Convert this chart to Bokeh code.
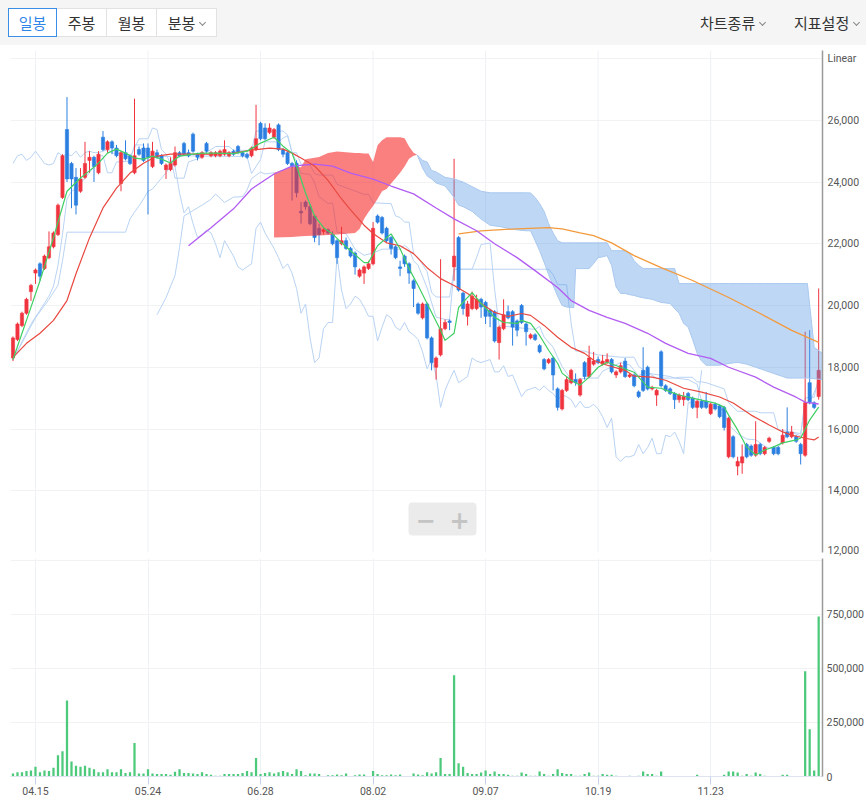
from bokeh.plotting import figure
from bokeh.models import (Range1d, FixedTicker, NumeralTickFormatter, BoxAnnotation,
                          Label, Div, Span, ColumnDataSource)
from bokeh.layouts import column
from bokeh.embed import file_html
from bokeh.resources import INLINE

# ---------------------------------------------------------------- data
tick_bars = [5, 30, 55, 80, 105, 130, 155]
tick_labels = ["04.15", "05.24", "06.28", "08.02", "09.07", "10.19", "11.23"]

opens = [
    18300, 18900, 19350, 19750, 20450, 21050, 21350, 21200, 21550, 21900,
    22300, 23500, 25700, 24600, 24150, 23700, 24150, 24700, 24800, 24300,
    25450, 25050, 25300, 25100, 23950, 24950, 24850, 24300, 25050, 25100,
    25100, 24500, 24950, 24850, 24400, 24400, 24550, 24950, 25250, 24950,
    25550, 24900, 24800, 25250, 24850, 24850, 24850, 24900, 24850, 25000,
    25150, 24950, 24900, 24850, 25050, 25900, 25750, 25600, 25450, 25850,
    25050, 24950, 24600, 24600, 23050, 23350, 23200, 22900, 22500, 22400,
    22450, 22300, 22100, 22000, 22100, 21850, 21700, 20950, 21050, 21200,
    21350, 22900, 22850, 22500, 22200, 21900, 21250, 21600, 21350, 20800,
    20050, 19600, 20050, 18950, 18000, 18400, 19250, 19500, 21250, 22200,
    20400, 19650, 19900, 19900, 20200, 20100, 19850, 19800, 18800, 19250,
    19800, 19800, 19500, 20000, 19400, 18950, 19050, 18700, 18250, 18150,
    18300, 17300, 16650, 17250, 17500, 17600, 17100, 18150, 17700, 18100,
    18250, 18100, 18150, 18250, 17750, 17850, 18200, 17700, 17750, 17200,
    17900, 18000, 17300, 17100, 18500, 17400, 17300, 17150, 16950, 16950,
    17150, 17000, 16700, 16900, 16900, 16500, 16800, 16750, 16700, 15100,
    15750, 14800, 14900, 15500, 15450, 15150, 15500, 15200, 15600, 15400,
    15400, 15550, 15900, 15750, 15750, 15500, 15150, 17500, 16850, 17050,
]
highs = [
    19000, 19450, 19800, 20250, 20700, 21200, 21400, 21650, 22400, 22400,
    23300, 24900, 26750, 24650, 24450, 24450, 25300, 25000, 24850, 25000,
    25650, 25350, 25350, 25200, 25000, 25350, 24900, 26700, 25150, 25250,
    25250, 25300, 25050, 24900, 24600, 24800, 25150, 25000, 25300, 25050,
    25600, 24950, 25000, 25300, 25000, 25000, 25050, 25350, 25000, 25050,
    25200, 25000, 24950, 25150, 26500, 25950, 25900, 25900, 25750, 25900,
    25100, 25000, 24650, 24700, 23350, 23400, 23300, 22950, 22650, 22550,
    22500, 22400, 22150, 22550, 22200, 21900, 21750, 21200, 21300, 21450,
    22700, 22950, 22900, 22550, 22250, 21950, 21450, 21650, 21400, 20850,
    20100, 20100, 20100, 19000, 18350, 21500, 19550, 19550, 24750, 22250,
    20450, 20150, 20450, 20350, 20250, 20150, 19900, 19850, 19350, 20200,
    20000, 19850, 19550, 20050, 19450, 19100, 19100, 18750, 18300, 18300,
    18350, 17350, 17300, 17700, 17950, 17800, 17650, 18200, 18700, 18500,
    18350, 18400, 18450, 18300, 17900, 18150, 18300, 17800, 17800, 17250,
    18650, 18050, 17400, 17300, 18550, 17450, 17350, 17200, 17150, 17200,
    17200, 17050, 16950, 16950, 17200, 16850, 16850, 16800, 16750, 16400,
    15800, 15100, 15500, 15550, 15500, 16250, 15550, 15450, 15750, 15450,
    15450, 16000, 16700, 16100, 15800, 15550, 19150, 19200, 16900, 20550,
]
lows = [
    18200, 18850, 19300, 19700, 20150, 20700, 20800, 21150, 21500, 21850,
    22250, 23450, 24000, 23150, 22950, 23650, 24100, 24300, 24000, 24250,
    25000, 24950, 24900, 24800, 23700, 24700, 24550, 24250, 24850, 24650,
    22950, 24450, 24750, 24550, 24100, 24350, 24500, 24800, 24850, 24800,
    24950, 24700, 24750, 24950, 24800, 24800, 24800, 24850, 24800, 24850,
    24900, 24800, 24750, 24800, 25000, 25350, 25350, 25550, 25400, 25000,
    24800, 24550, 23400, 23500, 22650, 23100, 22600, 22050, 21950, 22300,
    22300, 21950, 21350, 21950, 21800, 21550, 21000, 20900, 20700, 21150,
    21300, 22650, 22300, 22050, 21650, 21500, 20950, 21250, 20700, 19950,
    19700, 19550, 18900, 17900, 17600, 18350, 19200, 19200, 20800, 20450,
    19700, 19350, 19850, 19850, 19600, 19400, 19300, 18800, 18250, 19200,
    19550, 18700, 19000, 19400, 18700, 18900, 18850, 18450, 17900, 18100,
    17250, 16600, 16600, 17200, 17450, 17400, 17050, 17600, 17650, 18050,
    18100, 18050, 18100, 17800, 17650, 17800, 17650, 17650, 17350, 17000,
    17200, 17250, 17250, 16750, 17350, 17200, 17100, 16650, 16850, 16750,
    16900, 16650, 16350, 16650, 16650, 16450, 16600, 16350, 15950, 15050,
    15050, 14500, 14550, 15050, 15100, 15100, 15150, 15150, 15550, 15150,
    15150, 15500, 15700, 15700, 15550, 14850, 15100, 16800, 16650, 16950,
]
closes = [
    18950, 19400, 19750, 20200, 20650, 21150, 20950, 21600, 21900, 22350,
    23250, 24850, 24100, 24100, 23250, 24100, 24600, 24800, 24500, 24900,
    25050, 25300, 25100, 24850, 24950, 24750, 24600, 24850, 24900, 24700,
    24800, 25000, 24800, 24600, 24550, 24600, 24950, 24850, 24900, 24850,
    25000, 24800, 24950, 25000, 24950, 24950, 25000, 25050, 24950, 24900,
    24950, 24850, 24800, 25100, 25400, 25400, 25400, 25750, 25700, 25050,
    24900, 24600, 24500, 23650, 23000, 23200, 22650, 22200, 22300, 22450,
    22350, 22000, 21550, 22100, 21850, 21600, 21250, 21150, 21250, 21350,
    22500, 22700, 22350, 22100, 21850, 21550, 21200, 21350, 21050, 20550,
    19750, 20050, 18950, 18150, 18300, 19250, 19450, 19450, 21600, 20500,
    19900, 20050, 20300, 20200, 19950, 19650, 19650, 18850, 19300, 19700,
    19600, 19300, 19200, 19450, 19150, 19050, 18900, 18500, 17950, 18250,
    17750, 16700, 17250, 17600, 17900, 17500, 17600, 17700, 18300, 18200,
    18150, 18200, 18250, 17850, 17850, 18050, 17700, 17750, 17400, 17050,
    17250, 17300, 17350, 17250, 17400, 17250, 17150, 16950, 17100, 17050,
    16950, 16700, 16900, 16700, 16700, 16800, 16650, 16400, 16050, 16350,
    15100, 14950, 15100, 15100, 15150, 15500, 15200, 15400, 15700, 15200,
    15200, 15800, 15750, 15900, 15600, 15200, 16850, 16850, 16700, 17900,
]
volumes = [
    14000, 20000, 20000, 25000, 28000, 45000, 20000, 28000, 25000, 40000,
    98000, 117000, 352000, 70000, 50000, 45000, 50000, 40000, 34000, 20000,
    20000, 34000, 20000, 20000, 34000, 16000, 20000, 155000, 14000, 14000,
    34000, 14000, 11000, 11000, 12000, 8000, 22000, 34000, 16000, 16000,
    14000, 12000, 20000, 11000, 8000, 3000, 3000, 12000, 11000, 11000,
    12000, 16000, 25000, 20000, 86000, 11000, 16000, 20000, 14000, 20000,
    25000, 20000, 11000, 33000, 26000, 6000, 14000, 14000, 11000, 1500,
    6000, 6000, 9000, 6000, 14000, 1500, 6000, 9000, 9000, 1500,
    25000, 11000, 6000, 6000, 9000, 6000, 9000, 1500, 1500, 14000,
    9000, 6000, 20000, 14000, 20000, 86000, 11000, 11000, 469000, 61000,
    45000, 16000, 12000, 12000, 19000, 28000, 12000, 23000, 12000, 12000,
    8000, 3000, 3000, 19000, 11000, 3000, 3000, 23000, 12000, 3000,
    11000, 33000, 16000, 11000, 11000, 3000, 3000, 11000, 19000, 3000,
    3000, 11000, 8000, 8000, 3000, 2000, 2000, 3000, 2000, 3000,
    23000, 11000, 11000, 3000, 23000, 2000, 2000, 2000, 2000, 2000,
    2000, 2000, 8000, 2000, 2000, 2000, 2000, 2000, 8000, 23000,
    23000, 19000, 3000, 11000, 3000, 19000, 11000, 3000, 2000, 2000,
    2000, 8000, 8000, 2000, 2000, 2000, 487000, 219000, 28000, 740000,
]

# moving averages (5 / 20 / 60 / 120)
ma5_x = [0, 3, 6, 9, 12, 15, 17, 19, 21, 23, 25, 27, 29, 31, 33, 35, 37, 40, 42, 45,
         49, 52, 55, 58, 60, 62, 63, 65, 67, 69, 71, 73, 75, 78, 79, 81, 84, 86, 88, 90,
         92, 95, 96, 98, 99, 101, 102, 104, 107, 109, 112, 113, 115, 117, 119, 121, 122, 124, 126, 128,
         130, 132, 135, 138, 141, 144, 145, 148, 151, 153, 156, 158, 159, 161, 163, 165, 167, 169, 171, 174,
         175, 177, 179]
ma5_y = [18250, 19520, 20800, 22200, 23700, 24130, 24360, 24610, 24935, 25065, 24935, 24775, 24740, 24840, 24740, 24615, 24840, 24900, 24935, 24935,
         24920, 25000, 25260, 25450, 25160, 24935, 24520, 23645, 22900, 22520, 22320, 22030, 21775, 21390, 21390, 21935, 22320, 21840, 21195, 20645,
         20065, 19195, 18870, 19100, 19935, 20260, 20420, 20065, 19615, 19450, 19420, 19520, 19420, 19030, 18550, 18130, 17810, 17580, 17420, 17680,
         18000, 18160, 18000, 17840, 17355, 17320, 17260, 17100, 17000, 16935, 16840, 16710, 16450, 15970, 15420, 15160, 15320, 15420, 15550, 15645,
         15710, 16290, 16710]
ma20_x = [0, 3, 6, 9, 12, 14, 17, 20, 23, 26, 29, 32, 35, 40, 44, 49, 53, 57, 60, 62,
          64, 67, 70, 73, 75, 78, 80, 83, 86, 89, 92, 95, 98, 101, 104, 107, 110, 113, 115, 118,
          121, 124, 127, 129, 132, 136, 138, 142, 145, 149, 153, 157, 160, 164, 168, 171, 173, 176, 178, 179]
ma20_y = [18320, 18775, 19100, 19520, 20160, 21030, 22190, 23160, 23800, 24290, 24610, 24840, 24900, 24900, 24900, 24935, 25030, 25100, 25065, 24935,
          24775, 24520, 24050, 23450, 23100, 22600, 22330, 22030, 21935, 21680, 21225, 20870, 20645, 20390, 20065, 19775, 19645, 19740, 19680, 19355,
          18970, 18645, 18450, 18225, 18065, 17900, 17710, 17680, 17580, 17320, 17195, 17035, 16840, 16450, 16130, 15905, 15800, 15700, 15645, 15740]
ma60_x = [39, 44, 49, 53, 58, 62, 67, 71, 75, 80, 84, 89, 94, 98, 103, 107, 112, 116, 121, 124,
          128, 132, 136, 141, 145, 150, 155, 159, 165, 169, 174, 176, 179]
ma60_y = [21935, 22520, 23130, 23775, 24260, 24515, 24580, 24515, 24290, 24095, 23870, 23615, 23160, 22805, 22420, 22000, 21550, 21130, 20580, 20160,
          19840, 19615, 19420, 19100, 18775, 18450, 18290, 18000, 17680, 17355, 17030, 16870, 16810]
ma120_x = [99, 104, 112, 119, 122, 126, 129, 133, 138, 144, 151, 159, 166, 173, 179]
ma120_y = [22320, 22420, 22485, 22520, 22485, 22355, 22260, 22030, 21615, 21225, 20810, 20260, 19740, 19195, 18805]

# ichimoku: conversion line, base line, leading span A before the cloud
tenkan_x = [0, 4, 8, 9, 10, 11, 12, 13, 14, 15, 16, 17, 18, 19, 20, 21, 22, 23, 26, 27,
            29, 30, 35, 36, 38, 39, 42, 43, 44, 45, 48, 49, 53, 54, 60, 61, 62, 63, 64, 66,
            67, 68, 70, 71, 72, 74, 76, 78, 80, 82, 86, 87, 88, 89, 90, 92, 94, 96, 97, 98,
            102, 103, 104, 106, 107, 108, 111, 116, 117, 118, 120, 121, 122, 124, 128, 130, 131, 135, 137, 138,
            139, 140, 146, 147, 150, 152, 153, 156, 158, 159, 161, 163, 165, 167, 168, 170, 171, 173, 175, 176,
            177, 178, 179]
tenkan_y = [18250, 19400, 20300, 20625, 21300, 22300, 23450, 23700, 23775, 23950, 24125, 24300, 24500, 24850, 24850, 24300, 24300, 24650, 24675, 25200,
            25200, 24825, 24825, 24125, 24125, 24650, 24800, 24975, 25050, 25150, 25150, 25025, 25025, 25650, 25650, 25525, 24950, 24675, 24275, 24250,
            23975, 23525, 23300, 23325, 22375, 22325, 21825, 21625, 21700, 21825, 21825, 21950, 21825, 21450, 21300, 20575, 19625, 19550, 19550, 21175,
            21175, 21550, 21975, 22025, 20525, 19350, 19300, 19225, 19325, 18975, 18650, 18325, 18025, 17600, 17650, 17650, 17875, 18150, 18075, 17900,
            17725, 17825, 17700, 17650, 17600, 17450, 16900, 16775, 16575, 16125, 15850, 15675, 15650, 15450, 15375, 15400, 15650, 15900, 15775, 17000,
            17025, 17025, 17700]
kijun_x = [0, 5, 8, 10, 11, 12, 25, 26, 27, 28, 29, 30, 31, 32, 33, 34, 35, 36, 52, 53,
           55, 56, 59, 60, 61, 62, 63, 64, 66, 67, 68, 71, 72, 78, 79, 80, 84, 85, 86, 87,
           88, 89, 90, 92, 93, 94, 97, 98, 119, 120, 121, 123, 124, 125, 127, 128, 130, 135, 138, 139,
           141, 143, 147, 148, 151, 152, 153, 154, 158, 159, 161, 165, 166, 169, 170, 175, 176, 177, 179]
kijun_y = [18250, 19600, 20200, 20650, 21450, 22375, 22375, 22800, 23025, 23225, 23450, 23700, 23775, 23950, 24125, 24300, 24500, 24850, 24825, 24275,
           24725, 25300, 25300, 25425, 25500, 24950, 24950, 24575, 24550, 24275, 24225, 24225, 23925, 23600, 23600, 23325, 23300, 22900, 22850, 22700,
           22700, 21675, 21550, 21100, 20425, 20275, 20275, 21175, 21175, 21000, 20675, 20675, 19425, 18525, 18525, 18475, 18400, 18325, 18325, 18025,
           17825, 17650, 17650, 17675, 17675, 17525, 17525, 17500, 17300, 16850, 16575, 16575, 16525, 16525, 15975, 15850, 16825, 16850, 17525]
span_a_x = [32, 34, 36, 37, 38, 40, 42, 44, 45, 47, 49, 51, 52, 53, 55, 56, 58]
span_a_y = [19700, 20250, 20975, 21875, 22900, 23075, 23250, 23440, 23610, 23340, 23510, 23525, 23740, 24110, 24325, 24260, 24300]

# cloud while span A is above span B
red_cloud_x = [58, 62, 64, 65, 68, 70, 72, 76, 77, 78, 79, 80, 81, 82, 83, 84, 85, 86, 87, 88,
               89, 89.8]
red_cloud_a = [24300, 24490, 24475, 24740, 24810, 24940, 24990, 24940, 24940, 24925, 24925, 24650, 25190, 25350, 25450, 25450, 25450, 25450, 25420, 25150,
               24950, 24880]
red_cloud_b = [22200, 22220, 22240, 22250, 22270, 22280, 22300, 22350, 22475, 22800, 23025, 23225, 23450, 23700, 23775, 23950, 24125, 24300, 24500, 24750,
               24850, 24880]

# cloud while span B is above span A
blue_cloud_x = [89.8, 91, 92, 93, 94, 96, 98, 99, 100, 102,
                104, 106, 108, 110, 112, 114, 115, 116, 117, 118,
                119, 120, 121, 122, 123, 124, 124.6, 125, 126, 128,
                129, 130, 131, 132, 133, 134, 135, 136, 137, 138,
                139, 140, 142, 144, 146, 147, 148, 149, 150, 151,
                152, 153, 154, 155, 157, 159, 161, 163, 165, 167,
                169, 171, 172, 176.5, 178, 179.85]
blue_cloud_b = [24880, 24700, 24650, 24375, 24325, 24150, 24100, 24050, 24000, 23850,
                23700, 23650, 23650, 23650, 23650, 23650, 23645, 23500, 23300, 23050,
                22650, 22350, 22100, 22030, 22030, 22030, 22030, 22030, 22030, 22030,
                22030, 22030, 22030, 22030, 21775, 21775, 21775, 21775, 21700, 21450,
                21300, 21195, 21195, 21195, 21195, 21195, 20710, 20710, 20710, 20710,
                20710, 20710, 20710, 20710, 20710, 20710, 20710, 20710, 20710, 20710,
                20710, 20710, 20710, 20710, 18645, 18450]
blue_cloud_a = [24880, 24450, 24200, 24100, 23970, 23870, 23500, 23250, 23200, 23050,
                22800, 22600, 22560, 22500, 22450, 22420, 22420, 22100, 21775, 21400,
                21000, 20650, 20300, 20000, 19950, 19935, 19935, 21195, 21195, 21195,
                21360, 21550, 21575, 21615, 21300, 20600, 20390, 20390, 20350, 20325,
                20280, 20250, 20200, 20100, 20065, 19900, 19750, 19420, 19300, 18900,
                18450, 18200, 18065, 18065, 18065, 18120, 18160, 18100, 18000, 17900,
                17800, 17700, 17650, 17650, 17630, 17600]

# ---------------------------------------------------------------- styling
UP = "#f0343f"
DOWN = "#2b7fe0"
ICHI = "#b9d3f3"
GRID_V = "#eef1f5"
GRID_H = "#f1f2f4"
AXIS_FONT = "Roboto"
AXIS_FONT_SIZE = "10.5px"
FRAME_LEFT, FRAME_W = 10, 812
PRICE_TOP = 5                  # price frame starts at page y = 45 + 5
PX_PER_UNIT = 494 / 16000      # 2,000 won steps are 61.75 px apart
Y_LO = 12000
PRICE_H = 502
Y_HI = Y_LO + PRICE_H / PX_PER_UNIT
X_LO, X_HI = -0.55, 179.85

bars = list(range(len(closes)))
colors = [UP if c >= o else DOWN for o, c in zip(opens, closes)]
candles = ColumnDataSource(dict(
    x=bars, high=highs, low=lows,
    top=[max(o, c) for o, c in zip(opens, closes)],
    bottom=[min(o, c) for o, c in zip(opens, closes)],
    color=colors,
))


def style_value_axis(fig, standoff):
    for ax in fig.yaxis:
        ax.axis_line_color = "#9a9a9a"
        ax.axis_line_width = 1.5
        ax.major_tick_line_color = None
        ax.major_tick_out = 0
        ax.major_tick_in = 0
        ax.minor_tick_line_color = None
        ax.minor_tick_out = 0
        ax.major_label_text_font = AXIS_FONT
        ax.major_label_text_font_size = AXIS_FONT_SIZE
        ax.major_label_text_color = "#555555"
        ax.major_label_standoff = standoff


# ---------------------------------------------------------------- price panel
price = figure(frame_width=FRAME_W, frame_height=PRICE_H,
               x_range=Range1d(X_LO, X_HI), y_range=Range1d(Y_LO, Y_HI),
               x_axis_location=None, y_axis_location="right",
               output_backend="svg", toolbar_location=None,
               min_border_left=FRAME_LEFT, min_border_right=44,
               min_border_top=PRICE_TOP, min_border_bottom=4,
               background_fill_color="white", border_fill_color="white",
               outline_line_color=None)
price.xgrid.visible = False
for b in tick_bars:
    price.add_layout(Span(location=b, dimension="height", line_color=GRID_V,
                          line_width=1, level="underlay"))
price.yaxis.ticker = FixedTicker(ticks=list(range(12000, 28001, 2000)))
price.yaxis.formatter = NumeralTickFormatter(format="0,0")
price.yaxis.major_label_overrides = {28000: "Linear"}
price.ygrid.grid_line_color = GRID_H
style_value_axis(price, 5)

# ichimoku lines (under candles and cloud)
price.line(tenkan_x, tenkan_y, line_color=ICHI, line_width=1)
price.line(kijun_x, kijun_y, line_color=ICHI, line_width=1)
price.line(bars[:len(closes) - 26], closes[26:], line_color=ICHI, line_width=1)
price.line(span_a_x, span_a_y, line_color=ICHI, line_width=1)

# candles
price.segment(x0="x", y0="low", x1="x", y1="high", line_color="color", line_width=1, source=candles)
price.vbar(x="x", top="top", bottom="bottom", width=0.72, fill_color="color",
           line_color="color", line_width=0.6, source=candles)

# cloud
price.varea(x=red_cloud_x, y1=red_cloud_b, y2=red_cloud_a, fill_color="#f72b2b", fill_alpha=0.6)
price.varea(x=blue_cloud_x, y1=blue_cloud_a, y2=blue_cloud_b, fill_color="#5c9be6", fill_alpha=0.4)
price.line(blue_cloud_x, blue_cloud_a, line_color="#a9c8ef", line_width=1)
price.line(blue_cloud_x, blue_cloud_b, line_color="#a9c8ef", line_width=1)

# moving averages on top
price.line(ma120_x, ma120_y, line_color="#f39a3c", line_width=1.3)
price.line(ma60_x, ma60_y, line_color="#b25cf2", line_width=1.3)
price.line(ma20_x, ma20_y, line_color="#e8483f", line_width=1.2)
price.line(ma5_x, ma5_y, line_color="#3fcf62", line_width=1.2)


# zoom buttons placed in page pixels, converted to data units
def px_x(px):
    return X_LO + (px - FRAME_LEFT) * (X_HI - X_LO) / FRAME_W


def px_y(py):
    return Y_HI - (py - (45 + PRICE_TOP)) / PX_PER_UNIT


price.add_layout(BoxAnnotation(left=px_x(408), right=px_x(476), top=px_y(502), bottom=px_y(535),
                               fill_color="#ebebeb", fill_alpha=1.0, line_color=None,
                               border_radius=4, level="overlay"))
price.segment(x0=[px_x(442)], y0=[px_y(508)], x1=[px_x(442)], y1=[px_y(529)],
              line_color="#f7f7f7", line_width=1.5, level="overlay")
for sym, cx in (("\u2212", 425), ("+", 459)):
    price.add_layout(Label(x=px_x(cx), y=px_y(519), text=sym, text_align="center",
                           text_baseline="middle", text_font="DejaVu Sans",
                           text_font_style="bold", text_font_size="24px",
                           text_color="#c4c4c4", level="overlay"))

# ---------------------------------------------------------------- volume panel
vol = figure(frame_width=FRAME_W, frame_height=218,
             x_range=price.x_range, y_range=Range1d(0, 1_009_000),
             y_axis_location="right", output_backend="svg", toolbar_location=None,
             min_border_left=FRAME_LEFT, min_border_right=44,
             min_border_top=2, min_border_bottom=28,
             background_fill_color="white", border_fill_color="white",
             outline_line_color=None)
vol.vbar(x=bars, top=volumes, width=0.5, fill_color="#4cc97a", line_color=None)
vol.xaxis.ticker = FixedTicker(ticks=tick_bars)
vol.xaxis.major_label_overrides = dict(zip(tick_bars, tick_labels))
vol.xaxis.axis_line_color = "#dfe5ef"
vol.xaxis.major_tick_line_color = "#c6d3e8"
vol.xaxis.major_tick_out = 8
vol.xaxis.major_tick_in = 0
vol.xaxis.minor_tick_line_color = None
vol.xaxis.major_label_standoff = 2
vol.xaxis.major_label_text_font = AXIS_FONT
vol.xaxis.major_label_text_font_size = AXIS_FONT_SIZE
vol.xaxis.major_label_text_color = "#555555"
vol.xgrid.grid_line_color = GRID_V
vol.yaxis.ticker = FixedTicker(ticks=[0, 250000, 500000, 750000, 1000000])
vol.yaxis.formatter = NumeralTickFormatter(format="0,0")
vol.yaxis.major_label_overrides = {1000000: ""}
vol.ygrid.grid_line_color = GRID_H
style_value_axis(vol, 4)

# ---------------------------------------------------------------- top bar
chev = ('<span style="display:inline-block;width:5px;height:5px;border-right:1px solid #888;'
        'border-bottom:1px solid #888;transform:rotate(45deg);margin-left:5px;'
        'position:relative;top:-4px;"></span>')
btn = ('box-sizing:border-box;height:29px;background:#fff;text-align:center;'
       'line-height:27px;border:1px solid #e2e2e2;')
bar_html = f"""
<div style="position:relative;width:866px;height:45px;background:#f5f5f5;
            font-family:'Noto Sans CJK KR',sans-serif;font-size:15px;color:#333;">
  <div style="position:absolute;left:8px;top:8px;display:flex;">
    <div style="{btn}width:49px;border-color:#3a8ee6;color:#2f86e8;">일봉</div>
    <div style="{btn}width:50px;border-left:none;">주봉</div>
    <div style="{btn}width:50px;border-left:none;">월봉</div>
    <div style="{btn}width:60px;border-left:none;">분봉{chev}</div>
  </div>
  <div style="position:absolute;left:700px;top:9px;line-height:27px;">차트종류{chev}</div>
  <div style="position:absolute;left:794px;top:9px;line-height:27px;">지표설정{chev}</div>
</div>
"""
top_bar = Div(text=bar_html, width=866, height=45, styles={"margin": "0", "padding": "0"})

page = column(top_bar, price, vol, spacing=0)
open("out.html", "w").write(file_html(page, INLINE))
